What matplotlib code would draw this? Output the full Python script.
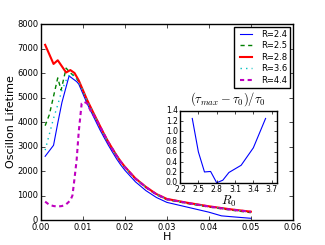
import matplotlib
matplotlib.use('Agg')
import matplotlib.pyplot as plt
import numpy as np

plt.style.use('classic')
plt.rcParams['mathtext.fontset'] = 'cm'

# early part (H < 0.009) for each run
h_blue = [0.001, 0.003, 0.004, 0.005, 0.0067, 0.0085, 0.009, 0.01, 0.011, 0.012, 0.013, 0.014,
          0.015, 0.016, 0.017, 0.018, 0.019, 0.02, 0.0225, 0.025, 0.0275, 0.03, 0.035,
          0.04, 0.043, 0.045, 0.05]
v_blue = [2600, 3050, 3950, 4800, 5880, 5650, 5550, 5150, 4750, 4400, 4050, 3700,
          3380, 3070, 2780, 2500, 2250, 2030, 1560, 1200, 920, 720, 520,
          320, 170, 140, 70]

h_green = [0.001, 0.002, 0.003, 0.004, 0.0048, 0.006, 0.007, 0.008, 0.009, 0.01, 0.011,
           0.012, 0.013, 0.014, 0.015, 0.016, 0.017, 0.018, 0.019, 0.02, 0.0225, 0.025,
           0.0275, 0.03, 0.035, 0.04, 0.045, 0.05]
v_green = [3850, 4300, 5050, 5800, 5300, 6200, 6000, 5880, 5650, 5270, 4870,
           4510, 4160, 3820, 3490, 3170, 2890, 2610, 2360, 2140, 1670, 1320,
           1030, 830, 670, 530, 410, 300]

h_red = [0.001, 0.003, 0.004, 0.006, 0.007, 0.008, 0.009, 0.01, 0.011, 0.012, 0.013,
         0.014, 0.015, 0.016, 0.017, 0.018, 0.019, 0.02, 0.0225, 0.025, 0.0275, 0.03,
         0.035, 0.04, 0.045, 0.05]
v_red = [7150, 6370, 6520, 6020, 6120, 6000, 5700, 5300, 4900, 4550, 4200,
         3860, 3520, 3200, 2920, 2640, 2390, 2170, 1700, 1350, 1060, 860,
         700, 560, 440, 340]

h_cyan = [0.001, 0.002, 0.003, 0.004, 0.005, 0.006, 0.007, 0.008, 0.009, 0.01, 0.011,
          0.012, 0.013, 0.014, 0.015, 0.016, 0.017, 0.018, 0.019, 0.02, 0.0225, 0.025,
          0.0275, 0.03, 0.035, 0.04, 0.045, 0.05]
v_cyan = [2850, 3500, 4150, 4700, 5300, 5700, 5980, 5850, 5650, 5280, 4880,
          4530, 4180, 3840, 3510, 3190, 2910, 2630, 2380, 2160, 1690, 1340,
          1050, 850, 690, 550, 430, 330]

h_mag = [0.001, 0.002, 0.003, 0.004, 0.005, 0.006, 0.007, 0.0075, 0.008, 0.0085, 0.009,
         0.0097, 0.0102, 0.011, 0.012, 0.013, 0.014, 0.015, 0.016, 0.017, 0.018, 0.019,
         0.02, 0.0225, 0.025, 0.0275, 0.03, 0.035, 0.04, 0.045, 0.05]
v_mag = [750, 620, 570, 550, 570, 640, 800, 1000, 1700, 2450, 3600,
         4760, 4830, 4760, 4400, 4170, 3840, 3510, 3190, 2910, 2630, 2380,
         2160, 1690, 1340, 1050, 850, 690, 550, 430, 335]

# inset: relative gain vs R0
r0 = [2.4, 2.5, 2.6, 2.7, 2.8, 2.9, 3.0, 3.2, 3.4, 3.6]
gain = [1.25, 0.6, 0.21, 0.22, 0.0, 0.05, 0.2, 0.34, 0.68, 1.25]

fig = plt.figure(figsize=(3.25, 2.45), dpi=100, facecolor='white')
ax = fig.add_axes([0.126, 0.102, 0.775, 0.8])

ax.plot(h_blue, v_blue, 'b-', lw=0.8, label='R=2.4')
ax.plot(h_green, v_green, 'g--', lw=1, dashes=(3, 2.5), label='R=2.5')
ax.plot(h_red, v_red, 'r-', lw=1.5, label='R=2.8')
ax.plot(h_cyan, v_cyan, 'c:', lw=1, label='R=3.6')
ax.plot(h_mag, v_mag, 'm--', lw=1.5, dashes=(3, 2.5), label='R=4.4')

ax.set_xlim(0, 0.06)
ax.set_ylim(0, 8000)
ax.set_xticks(np.arange(0, 0.061, 0.01))
ax.xaxis.set_major_formatter(matplotlib.ticker.FormatStrFormatter('%.2f'))
ax.tick_params(labelsize=6, length=3, pad=2)
ax.set_xlabel('H', fontsize=8, labelpad=0)
ax.set_ylabel('Oscillon Lifetime', fontsize=8, labelpad=1)
leg = ax.legend(loc='upper right', fontsize=6, numpoints=2, handlelength=2.0,
                borderaxespad=0.3, labelspacing=0.3, borderpad=0.4,
                handletextpad=0.8, fancybox=False)

ins = fig.add_axes([0.554, 0.254, 0.297, 0.294])
ins.plot(r0, gain, 'b-', lw=0.8)
ins.set_xlim(2.2, 3.78)
ins.set_ylim(0, 1.4)
ins.set_xticks([2.2, 2.5, 2.8, 3.1, 3.4, 3.7])
ins.set_yticks(np.arange(0, 1.41, 0.2))
ins.xaxis.set_major_formatter(matplotlib.ticker.FormatStrFormatter('%.1f'))
ins.yaxis.set_major_formatter(matplotlib.ticker.FormatStrFormatter('%.1f'))
ins.tick_params(labelsize=5.5, length=2, pad=1.5)
ins.set_title(r'$(\tau_{max}-\tau_0)/\tau_0$', fontsize=9, y=1.01)
ins.set_xlabel(r'$R_0$', fontsize=9, labelpad=0)

fig.savefig('out.png', dpi=100, facecolor='white')
